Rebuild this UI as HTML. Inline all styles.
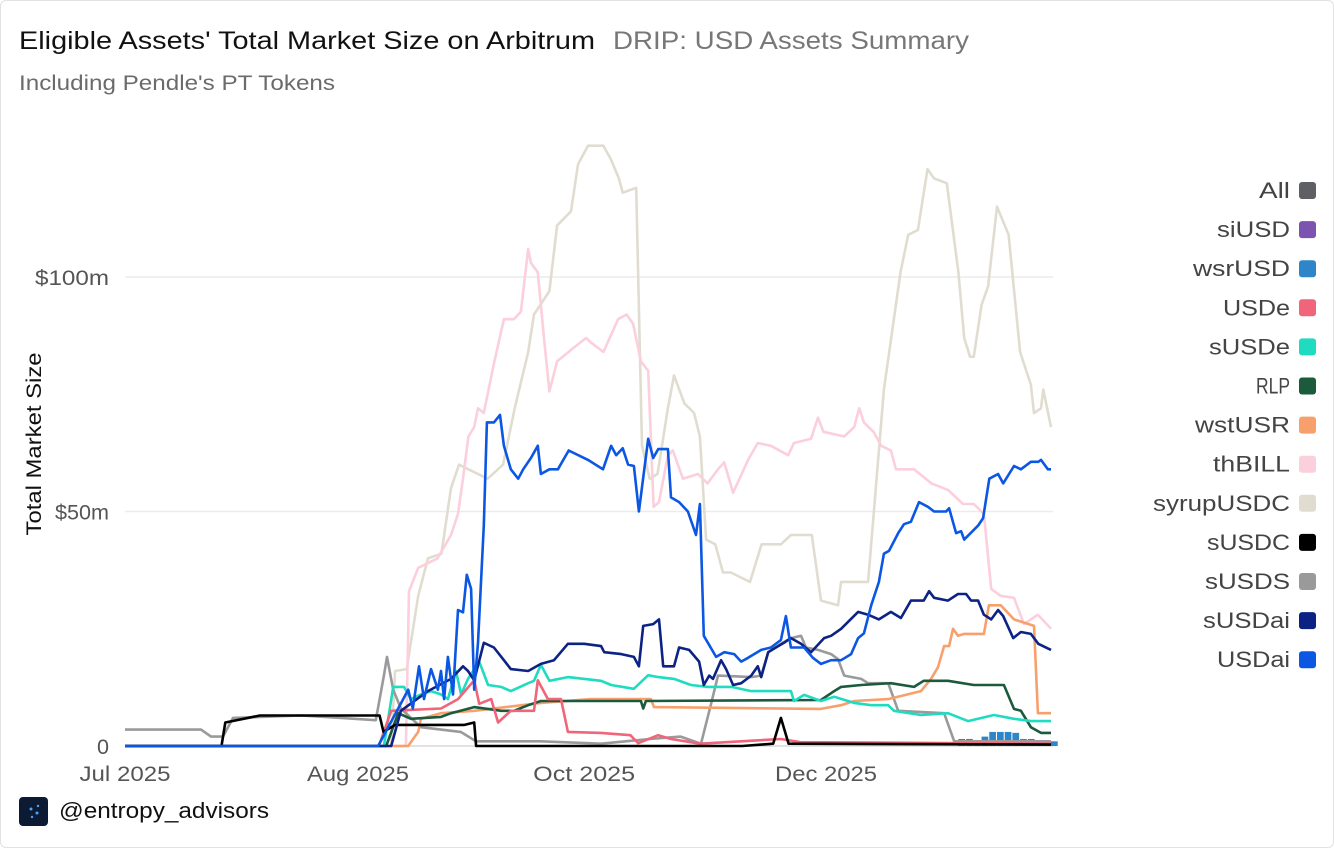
<!DOCTYPE html>
<html><head><meta charset="utf-8">
<style>
html,body{margin:0;padding:0;background:#fff;}
#wrap{position:relative;width:1332px;height:846px;border:1px solid #e2e2e2;border-radius:6px;overflow:hidden;font-family:"Liberation Sans",sans-serif;}
svg text{font-family:"Liberation Sans",sans-serif;}
</style></head>
<body>
<div id="wrap">
<svg id="chart" width="1334" height="848">
  <text x="18" y="48" font-size="25" fill="#111" textLength="576" lengthAdjust="spacingAndGlyphs">Eligible Assets' Total Market Size on Arbitrum</text>
  <text x="612" y="48" font-size="25" fill="#777" textLength="356" lengthAdjust="spacingAndGlyphs">DRIP: USD Assets Summary</text>
  <text x="18" y="89" font-size="21" fill="#6b6b6b" textLength="316" lengthAdjust="spacingAndGlyphs">Including Pendle's PT Tokens</text>
  <text transform="translate(40,443) rotate(-90)" text-anchor="middle" font-size="21" fill="#111" textLength="183" lengthAdjust="spacingAndGlyphs">Total Market Size</text>
  <g id="grid"></g><g id="series"></g><g id="legend"></g>
  <rect x="18" y="796" width="29" height="29" rx="4" fill="#0c1a33"/>
  <circle cx="30" cy="808" r="1.5" fill="#4aa3ff"/><circle cx="36" cy="812" r="1.5" fill="#4aa3ff"/><circle cx="31" cy="816" r="1.2" fill="#4aa3ff"/><circle cx="37" cy="805" r="1.2" fill="#4aa3ff"/>
  <text x="58" y="817" font-size="22" fill="#111" textLength="210" lengthAdjust="spacingAndGlyphs">@entropy_advisors</text>
</svg>
</div>
<script>
const yTicks=[0,50,100];
const yTickLabels=["0","$50m","$100m"];
const xTickDays=[0,60.4,119,181.7];
const xTickLabels=["Jul 2025","Aug 2025","Oct 2025","Dec 2025"];
const legendNames=["All","siUSD","wsrUSD","USDe","sUSDe","RLP","wstUSR","thBILL","syrupUSDC","sUSDC","sUSDS","sUSDai","USDai"];
const legendColors=["#5f5f66","#7b54b0","#2e86c8","#f0657a","#1fdcc0","#1b5a3c","#f8a06c","#fbcfdc","#e0ddd0","#000000","#9a9a9a","#0d2384","#0b57e3"];
const legendW=[31,73,97,67,81,34,95,77,137,83,85,87,73];

const syrupDays=[0,69,70,73,76,78.5,82,84.5,86.6,89,94,98,101,104.5,106,110,112,115.6,117.4,120,124,126,128,129,132.5,134,136,138,140.7,142.3,145,147.5,149,150.6,153,155,157,162,165,170,172.6,178,180.4,184.8,185.6,192.6,196.7,201,203,205.5,208,209.7,213,216,217.5,219,220,222,223.7,226,229,232,234.8,235.6,237.4,238,240];
const syrupVals=[0,0,16,16.4,32,40,41,55,60,59,57,60,72,84,92,97,111,114,124,128,128,125,121,118,119,64,57,58,72,79,73,71,66,44,43,37,37,35,43,43,45,45,31,30,35,35,76,101,109,110,123,121,120,101,87,83,83,94,98,115,109,84,77,71,72,76,68];
const thbillDays=[0,72.8,73.6,76,78.5,81,84.5,86.3,87.6,89,90.5,91.5,93,95.6,98.2,100.8,102.6,104.5,105.2,107,108.6,110,112,116.4,119.5,120.8,124,127.8,130,131.7,133.7,135.6,137,138.4,140.7,142,144.6,148.5,151,153.7,155.3,157.6,161.5,164,167.4,171.9,173.4,177.8,179.6,181,186.4,189,190.3,191.5,194,196,198.5,199.8,204.5,209,213.3,217.2,220,222.6,224.5,227,230.4,233,236.6,240];
const thbillVals=[0,0,33,38,39,40,45,49.5,57,66,68,72,71,81.5,91,91,92.6,106,103,101,87,75.6,82,85,87,86,84,91,92,90,82,80,51,52,62,63,57,58,56,59,60.5,54,61,64.6,64,62,64.6,65.5,70,67,66,68,72,69,67,64,63,59,59,56,54.6,51.6,51.6,49.5,33.5,32,31.6,26,28,25];
const usdaiDays=[0,65.6,73.4,74.6,76.2,77.5,79.3,81.1,81.9,82.7,83.7,85,86.3,87.6,88.6,89.7,90.5,91.5,93,93.8,95.6,97.2,98.2,100,101.9,103.2,105.2,107,107.8,110,112.2,115,120,123.9,126,127.3,129,130.4,131.9,133.2,135.6,136.9,138.2,140.7,141.5,143.6,145.9,148,149,150,153.2,155.3,157.9,159.7,161.5,164.9,167.4,170,171.3,172.6,176,178.3,180.4,183,185.6,188.2,190,191.5,193.4,195.4,196.7,198,200.4,201.9,203.7,205.8,208.1,209.7,212.8,213.6,215.4,216.7,217.5,221.1,222.4,224,226.3,227.6,230.4,232.2,234.8,236.7,237.4,239.2,240];
const usdaiVals=[0,0,12,8,17,10,16.4,12,16,10,19,11,29,28.5,36.5,33.5,12,22,47,69,69,70.6,64,59,57,59,61.4,64,58,59,59,63,61,59,64,62,63.5,60,59.7,50,65.5,61.4,63.3,63.3,53,52,50,45,51.6,23.5,19,20,19.6,18,18.8,20.5,21,22.6,27.7,21,21,18.8,17.5,18.3,18.3,19.6,23,24,30,35,41,41.6,45.4,47.3,47.8,52,51,50,50,50.7,45.4,45.8,44,47,48.6,57,58,56,59.7,59,60.6,60.6,61,59,59];
const susdaiDays=[0,69,71.5,78.5,84.5,87.6,88.9,90.5,93,95.6,98.2,100,104.5,107.8,111.2,114.8,119,123.4,124.2,128.6,131.9,133.2,134.3,136.9,138.4,139.5,142.3,143.6,146.2,148.8,150,151.4,152.4,154.5,155.8,157.6,159.7,162.3,164,164.9,166.7,169.3,170.8,172.6,175.2,177.8,181.2,183,185.6,190,192.6,195.4,198.5,201.1,203.7,207,208.4,209.7,213.3,215.9,218,219.3,221.1,222.6,224.5,226.3,227.6,230.2,232.2,234.8,236.7,240];
const susdaiVals=[0,0,7.5,11.7,14.3,17,16,14,22,21,18.3,16.4,16,17.5,18.3,21.8,21.8,21.3,20,19.6,19,17,25.6,26,27,17,17,21,20.5,18,13,15,14.3,18.3,16.4,13,13.4,15,17,14.7,20,21.3,22,23,21.8,20,23,23.5,25,28.6,28,27,28.6,27.3,31,31,33,31.6,31,32.4,32.4,31,31,28,27,29,27.7,23,24.3,23.9,21.8,20.5];
const susdeDays=[0,67.1,69.5,72.3,74.1,76.7,79.3,81.9,83.7,85.8,87.1,88.9,91.8,94.1,97.5,100,104.5,106,107.8,110,114.8,123.4,126,131.9,135.6,138.2,142.3,146.7,151.1,157.2,162.3,172.6,173.4,176,180.4,183.8,189,193.4,197.8,199.3,206.3,213.3,218.5,225.2,230.4,234.8,240];
const susdeVals=[0,0,12.6,12.6,10,11,11.7,11,10,16,11,14.3,18,13,12.6,11.7,13.4,13.9,17.3,13.9,14.7,13.9,13,12.2,15.1,14.7,14.3,13,12.6,12.6,11.7,11.7,9.6,10.9,9.6,10.5,9.2,8.7,8.7,7.5,6.6,7,5.3,6.6,5.8,5.3,5.3];
const rlpDays=[0,67.7,70.8,74.1,81.9,84.5,90.5,97.5,100.8,104.5,107.8,123.4,133.7,134.3,135,180.4,183.8,185.6,190.8,198.5,204.5,207,213.3,220,227.8,230.4,232.2,234.8,237.4,240];
const rlpVals=[0,0,7,5.8,6.2,7,8.3,7.5,7.5,8.7,9.6,9.6,9.6,8,9.6,9.8,11.7,12.6,13,13.4,12.6,13.9,13.9,13,13,7.9,7.5,4,2.8,2.8];
const wstusrDays=[0,73.4,76,76.7,81.9,90.5,107.8,120.8,136.3,137.1,180.4,185.6,189,197.8,206.3,208.9,210.7,212.3,213.6,214.6,215.9,217.5,222.6,223.9,227,230.4,235.6,236.6,240];
const wstusrVals=[0,0,3,5.8,7,7.5,9.2,10,10,8.3,7.9,8.7,9.6,10,11.7,14.3,16.8,21.3,21.3,25,23.5,23.9,23.9,30,30,27,25.6,7,7];
const susdsDays=[0,19.7,22.3,25.4,28,45.6,56,65,67.1,67.9,69.5,71.5,76.7,87,91,107.8,123.4,136,144,149.3,151.9,153.7,162.3,164.9,166.7,170,172.6,175.2,176.5,179.6,183,184.8,186.4,190.8,192.6,197.8,200.4,212.3,214.9,240];
const susdsVals=[3.5,3.5,2,2,6,6.5,6,5.5,15,19,12,8,4,3,1,1,0.5,1.5,2,0.5,9,15,14.7,15,20,21.8,23,23.5,21,20.5,19.6,18.5,15,14.3,13.4,13.4,7.5,7,1,1];
const susdcDays=[0,25,26,35,60,66,67,70,88,90.5,91,160,168,170,172,240];
const susdcVals=[0,0,5,6.5,6.5,6.5,3,4.5,4.5,5,0,0,0.5,6,0.5,0.3];
const usdeDays=[0,65.8,69,81.9,86.3,90.5,91.8,94.9,96.7,100,106,107,109.6,113,114.8,123.4,131,133,138.2,141.5,149,170,175,240];
const usdeVals=[0,0,7.5,8,10,14,9,10,5,7.5,7.5,14,10,10,3,2.8,2.3,0.6,2.3,1.5,0.5,1.5,0.8,0.5];
const wsrusdDays=[0,214,216,218,220,222,224,226,228,230,232,234,236,238,240];
const wsrusdVals=[0,0,1.5,1.5,1.2,2,3,3,3,2.8,1.5,1.5,1.2,1.2,1];

const X0=124,X1=1050,Y0=745,Y100=276;
const xs=d=>X0+(X1-X0)*d/240;
const ys=v=>Y0-(Y0-Y100)*v/100;
const NS="http://www.w3.org/2000/svg";
const grid=document.getElementById('grid');
const yLabW=[12,54,74];
yTicks.forEach((t,i)=>{
  const l=document.createElementNS(NS,'line');
  l.setAttribute('x1',X0);l.setAttribute('x2',1052);l.setAttribute('y1',ys(t));l.setAttribute('y2',ys(t));
  l.setAttribute('stroke',t===0?'#d8d8d8':'#ececec');l.setAttribute('stroke-width','1.5');
  
  
  grid.appendChild(l);
  const tx=document.createElementNS(NS,'text');
  tx.setAttribute('x',108);tx.setAttribute('y',ys(t)+8);tx.setAttribute('text-anchor','end');
  tx.setAttribute('font-size','21');tx.setAttribute('fill','#555');tx.textContent=yTickLabels[i];
  tx.setAttribute('textLength',yLabW[i]);tx.setAttribute('lengthAdjust','spacingAndGlyphs');
  
  
  grid.appendChild(tx);
});
xTickDays.forEach((d,i)=>{
  const tx=document.createElementNS(NS,'text');
  tx.setAttribute('x',xs(d));tx.setAttribute('y',780);tx.setAttribute('text-anchor','middle');
  tx.setAttribute('font-size','21');tx.setAttribute('fill','#555');tx.textContent=xTickLabels[i];
  tx.setAttribute('textLength',i===0?91:102);tx.setAttribute('lengthAdjust','spacingAndGlyphs');
  
  
  grid.appendChild(tx);
});
const sg=document.getElementById('series');
function drawLine(days,vals,color,name){
  let d='';
  for(let i=0;i<days.length;i++){d+=(i?'L':'M')+xs(days[i]).toFixed(1)+','+ys(vals[i]).toFixed(1);}
  const p=document.createElementNS(NS,'path');
  p.setAttribute('d',d);p.setAttribute('fill','none');p.setAttribute('stroke',color);
  p.setAttribute('stroke-width','2.6');p.setAttribute('stroke-linejoin','round');
  
  
  sg.appendChild(p);
}
for(let i=0;i<wsrusdDays.length;i++){
  if(wsrusdVals[i]<=0)continue;
  const r=document.createElementNS(NS,'rect');
  r.setAttribute('x',xs(wsrusdDays[i]));r.setAttribute('width',xs(2)-xs(0)-1);
  r.setAttribute('y',ys(wsrusdVals[i]));r.setAttribute('height',ys(0)-ys(wsrusdVals[i]));
  r.setAttribute('fill','#2e86c8');
  
  
  sg.appendChild(r);
}
drawLine(syrupDays,syrupVals,'#e0ddd0','syrupusdc-line');
drawLine(thbillDays,thbillVals,'#fbcfdc','thbill-line');
drawLine(susdsDays,susdsVals,'#9a9a9a','susds-line');
drawLine(wstusrDays,wstusrVals,'#f8a06c','wstusr-line');
drawLine(rlpDays,rlpVals,'#1b5a3c','rlp-line');
drawLine(susdeDays,susdeVals,'#1fdcc0','susde-line');
drawLine(usdeDays,usdeVals,'#f0657a','usde-line');
drawLine(susdcDays,susdcVals,'#000000','susdc-line');
drawLine(susdaiDays,susdaiVals,'#0d2384','susdai-line');
drawLine(usdaiDays,usdaiVals,'#0b57e3','usdai-line');
const lg=document.getElementById('legend');
legendNames.forEach((n,i)=>{
  const y=189+i*39.1;
  const t=document.createElementNS(NS,'text');
  t.setAttribute('x',1289);t.setAttribute('y',y+8);t.setAttribute('text-anchor','end');
  t.setAttribute('font-size','22');t.setAttribute('fill','#444');t.textContent=n;
  t.setAttribute('textLength',legendW[i]);t.setAttribute('lengthAdjust','spacingAndGlyphs');
  
  
  lg.appendChild(t);
  const r=document.createElementNS(NS,'rect');
  r.setAttribute('x',1298);r.setAttribute('y',y-8);r.setAttribute('width',17);r.setAttribute('height',17);r.setAttribute('rx',3);
  r.setAttribute('fill',legendColors[i]);
  
  
  lg.appendChild(r);
});
</script>
</body></html>
